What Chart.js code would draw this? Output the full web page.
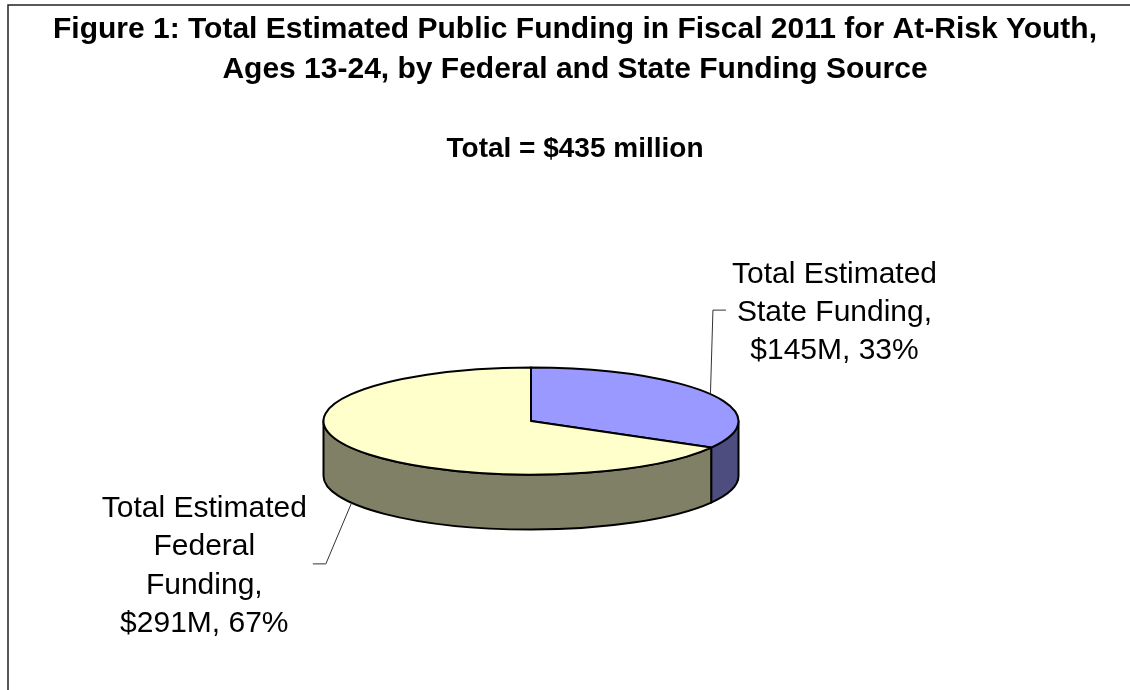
<!DOCTYPE html>
<html>
<head>
<meta charset="utf-8">
<title>Figure 1: Public Funding for At-Risk Youth</title>
<script src="https://cdn.jsdelivr.net/npm/chart.js@4.4.1/dist/chart.umd.min.js"></script>
<style>
	html, body { margin: 0; padding: 0; background: #fff; }
	#wrap { position: relative; width: 1130px; height: 690px; }
</style>
</head>
<body>
<div id="wrap"><canvas id="fundingPie"></canvas></div>
<script>
// Fiscal 2011 funding for at-risk youth, ages 13-24, in millions of dollars
var categories = ['Total Estimated State Funding', 'Total Estimated Federal Funding'];
var categoryLines = [
	['Total Estimated', 'State Funding'],
	['Total Estimated', 'Federal', 'Funding']
];
var fundingMillions = [145, 291];
var totalMillions = 435; // stated total in the source (rounded)

var titleLines = [
	'Figure 1: Total Estimated Public Funding in Fiscal 2011 for At-Risk Youth,',
	'Ages 13-24, by Federal and State Funding Source'
];

var topColors = ['#9999FF', '#FFFFCC'];
var sideColors = ['#4D4D80', '#808066'];

var FONT = "'Liberation Sans', Arial, Helvetica, sans-serif";

// leader line elbow relative to the slice anchor, and which side the label sits on
var labelPlacement = [
	{ dx: 2.5, dy: -84, side: 1 },
	{ dx: -25.7, dy: 61, side: -1 }
];

function labelText(i) {
	var sum = fundingMillions.reduce(function (a, b) { return a + b; }, 0);
	var pct = Math.round(fundingMillions[i] / sum * 100);
	var lines = categoryLines[i].slice();
	lines[lines.length - 1] += ',';
	lines.push('$' + fundingMillions[i] + 'M, ' + pct + '%');
	return lines;
}

// Draws the pie as a tilted disc with a visible front wall (Excel style 3-D pie)
var pie3d = {
	id: 'pie3d',
	beforeDraw: function (chart) {
		var ctx = chart.ctx;
		ctx.save();
		ctx.fillStyle = '#fff';
		ctx.fillRect(0, 0, chart.width, chart.height);
		ctx.strokeStyle = '#222';
		ctx.lineWidth = 1.5;
		ctx.beginPath();
		ctx.moveTo(8, chart.height);
		ctx.lineTo(8, 5);
		ctx.lineTo(chart.width, 5);
		ctx.stroke();
		ctx.restore();
	},
	beforeDatasetDraw: function (chart, args, opts) {
		var ctx = chart.ctx;
		var arcs = args.meta.data;
		var R = arcs[0].outerRadius;
		var cx = arcs[0].x + opts.offsetX;
		var cy = opts.centerY;
		var ry = R * opts.tilt;
		var depth = opts.depth;

		ctx.save();
		ctx.lineWidth = 2;
		ctx.lineJoin = 'round';
		ctx.strokeStyle = '#000';

		// front wall, only the part of each slice facing the viewer (0..PI)
		arcs.forEach(function (arc, i) {
			var a0 = Math.max(arc.startAngle, 0);
			var a1 = Math.min(arc.endAngle, Math.PI);
			if (a1 <= a0) return;
			ctx.beginPath();
			ctx.ellipse(cx, cy, R, ry, 0, a0, a1, false);
			ctx.lineTo(cx + R * Math.cos(a1), cy + depth + ry * Math.sin(a1));
			ctx.ellipse(cx, cy + depth, R, ry, 0, a1, a0, true);
			ctx.closePath();
			ctx.fillStyle = sideColors[i];
			ctx.fill();
			ctx.stroke();
		});

		// top faces
		arcs.forEach(function (arc, i) {
			ctx.beginPath();
			ctx.moveTo(cx, cy);
			ctx.ellipse(cx, cy, R, ry, 0, arc.startAngle, arc.endAngle, false);
			ctx.closePath();
			ctx.fillStyle = topColors[i];
			ctx.fill();
			ctx.stroke();
		});

		// data labels with leader lines
		ctx.font = '30px ' + FONT;
		ctx.textAlign = 'center';
		ctx.textBaseline = 'alphabetic';
		ctx.fillStyle = '#000';
		ctx.strokeStyle = '#333';
		ctx.lineWidth = 1;
		arcs.forEach(function (arc, i) {
			var mid = (arc.startAngle + arc.endAngle) / 2;
			var front = Math.sin(mid) > 0;
			var ax = cx + R * Math.cos(mid);
			var ay = (front ? cy + depth : cy) + ry * Math.sin(mid);
			var p = labelPlacement[i];
			var ex = ax + p.dx, ey = ay + p.dy;
			var lx = ex + p.side * 13;
			ctx.beginPath();
			ctx.moveTo(ax, ay);
			ctx.lineTo(ex, ey);
			ctx.lineTo(lx, ey);
			ctx.stroke();

			var lines = labelText(i);
			var w = 0;
			lines.forEach(function (t) { w = Math.max(w, ctx.measureText(t).width); });
			var tx = lx + p.side * (6 + w / 2);
			var lh = 38.3;
			lines.forEach(function (t, k) {
				var y = ey + (k - (lines.length - 1) / 2) * lh;
				ctx.fillText(t, tx, y + 10.7);
			});
		});

		ctx.restore();
		return false;
	}
};

new Chart(document.getElementById('fundingPie'), {
	type: 'pie',
	data: {
		labels: categories,
		datasets: [{
			data: fundingMillions,
			backgroundColor: topColors,
			borderColor: '#000',
			borderWidth: 2,
			radius: 207.5
		}]
	},
	options: {
		responsive: true,
		maintainAspectRatio: false,
		animation: false,
		layout: {
			padding: { left: 20, right: 0, top: 0, bottom: 0 }
		},
		plugins: {
			legend: { display: false },
			tooltip: { enabled: false },
			title: {
				display: true,
				text: titleLines,
				color: '#000',
				font: { family: FONT, size: 30, weight: 'bold', lineHeight: 1.3333 },
				padding: { top: 10, bottom: 0 }
			},
			subtitle: {
				display: true,
				text: 'Total = $' + totalMillions + ' million',
				color: '#000',
				font: { family: FONT, size: 28, weight: 'bold', lineHeight: 1.2 },
				padding: { top: 42, bottom: 10 }
			},
			pie3d: {
				offsetX: -44,
				centerY: 421,
				tilt: 0.258,
				depth: 55
			}
		}
	},
	plugins: [pie3d]
});
</script>
</body>
</html>
